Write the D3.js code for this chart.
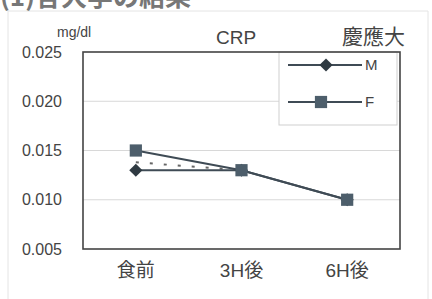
<!DOCTYPE html>
<html>
<head>
<meta charset="utf-8">
<script src="https://cdn.jsdelivr.net/npm/d3@7"></script>
<style>
	body { margin: 0; background: #fff; }
	text { font-family: "Liberation Sans", Arial, "Noto Sans CJK JP", sans-serif; fill: #444; }
</style>
</head>
<body>
<div id="chart"></div>
<script>
// data
const categories = ["食前", "3H後", "6H後"];
const valuesM = [0.013, 0.013, 0.010];
const valuesF = [0.015, 0.013, 0.010];
const valuesMean = [0.0138, 0.013];
const yTicks = [0.005, 0.010, 0.015, 0.020, 0.025];

const width = 432, height = 299;
const margin = { top: 52, right: 32, bottom: 50, left: 83 };

const svg = d3.select("#chart")
	.append("svg")
	.attr("width", width)
	.attr("height", height);

// outer frame of the scanned page
svg.append("path")
	.attr("d", "M8,299 V11 H428 V299")
	.attr("fill", "none")
	.attr("stroke", "#e4e4e4")
	.attr("stroke-width", 1);

// heading at the very top, cut off by the scan as in the original
svg.append("text")
	.attr("x", 0)
	.attr("y", 6)
	.attr("font-size", "26px")
	.attr("font-weight", "bold")
	.style("font-family", "Noto Sans CJK JP, sans-serif")
	.style("fill", "#777")
	.text("(1)各大学の結果");

const x = d3.scaleBand()
	.domain(categories)
	.range([margin.left, width - margin.right]);

const y = d3.scaleLinear()
	.domain([0.005, 0.025])
	.range([height - margin.bottom, margin.top]);

const cx = d => x(d) + x.bandwidth() / 2;

// gridlines
svg.append("g")
	.selectAll("line")
	.data(yTicks.slice(1, -1))
	.enter()
	.append("line")
	.attr("x1", margin.left)
	.attr("x2", width - margin.right)
	.attr("y1", d => y(d))
	.attr("y2", d => y(d))
	.attr("stroke", "#d8d8d8")
	.attr("stroke-width", 1);

// y axis labels
const yAxis = svg.append("g")
	.attr("transform", `translate(${margin.left}, 0)`)
	.call(d3.axisLeft(y).tickValues(yTicks).tickFormat(d3.format(".3f")).tickSize(0).tickPadding(21));
yAxis.select(".domain").remove();
yAxis.selectAll("text")
	.attr("font-size", "16px")
	.style("font-family", "Liberation Sans, Arial, sans-serif")
	.attr("fill", "#4a4a4a");

// x axis labels
const xAxis = svg.append("g")
	.attr("transform", `translate(0, ${height - margin.bottom})`)
	.call(d3.axisBottom(x).tickSize(0).tickPadding(15));
xAxis.select(".domain").remove();
xAxis.selectAll("text")
	.attr("font-size", "19px")
	.style("font-family", "Liberation Sans, Noto Sans CJK JP, sans-serif")
	.attr("fill", "#444");

// legend box
const legend = svg.append("g");
legend.append("rect")
	.attr("x", 279)
	.attr("y", margin.top)
	.attr("width", 118)
	.attr("height", 73)
	.attr("fill", "#fff")
	.attr("stroke", "#cfcfcf")
	.attr("stroke-width", 1);

// plot border
svg.append("rect")
	.attr("x", margin.left)
	.attr("y", margin.top)
	.attr("width", width - margin.left - margin.right)
	.attr("height", height - margin.top - margin.bottom)
	.attr("fill", "none")
	.attr("stroke", "#444")
	.attr("stroke-width", 1.6);

const lineColor = "#3f4b55";
const markColor = "#4d5e6b";

const line = d3.line()
	.x((d, i) => cx(categories[i]))
	.y(d => y(d));

// mean dashed line
svg.append("path")
	.datum(valuesMean)
	.attr("d", line)
	.attr("fill", "none")
	.attr("stroke", "#666")
	.attr("stroke-width", 2)
	.attr("stroke-dasharray", "3,11")
	.attr("stroke-dashoffset", -14);

svg.append("path")
	.datum(valuesF)
	.attr("d", line)
	.attr("fill", "none")
	.attr("stroke", lineColor)
	.attr("stroke-width", 2);

svg.append("path")
	.datum(valuesM)
	.attr("d", line)
	.attr("fill", "none")
	.attr("stroke", lineColor)
	.attr("stroke-width", 2);

const diamond = d3.symbol().type(d3.symbolDiamond2).size(110);
const square = d3.symbol().type(d3.symbolSquare2).size(190);

svg.append("g")
	.selectAll("path")
	.data(valuesM)
	.enter()
	.append("path")
	.attr("d", diamond)
	.attr("transform", (d, i) => `translate(${cx(categories[i])}, ${y(d)})`)
	.attr("fill", "#2f3a42");

svg.append("g")
	.selectAll("path")
	.data(valuesF)
	.enter()
	.append("path")
	.attr("d", square)
	.attr("transform", (d, i) => `translate(${cx(categories[i])}, ${y(d)})`)
	.attr("fill", markColor);

// legend entries
const legendItems = [
	{ label: "M", y: 65, symbol: diamond, color: "#2f3a42", mx: 326 },
	{ label: "F", y: 102, symbol: square, color: markColor, mx: 321 }
];
legendItems.forEach(function (d) {
	legend.append("line")
		.attr("x1", 288).attr("x2", 362)
		.attr("y1", d.y).attr("y2", d.y)
		.attr("stroke", lineColor)
		.attr("stroke-width", 2);
	legend.append("path")
		.attr("d", d.symbol)
		.attr("transform", `translate(${d.mx}, ${d.y})`)
		.attr("fill", d.color);
	legend.append("text")
		.attr("x", 365)
		.attr("y", d.y + 5)
		.attr("font-size", "15px")
		.text(d.label);
});

// titles
svg.append("text")
	.attr("x", 57)
	.attr("y", 37)
	.attr("font-size", "14px")
	.text("mg/dl");

svg.append("text")
	.attr("x", 236)
	.attr("y", 44)
	.attr("text-anchor", "middle")
	.attr("font-size", "19px")
	.text("CRP");

svg.append("text")
	.attr("x", 405)
	.attr("y", 44)
	.attr("text-anchor", "end")
	.attr("font-size", "21px")
	.style("font-family", "Noto Sans CJK JP, sans-serif")
	.text("慶應大");
</script>
</body>
</html>
